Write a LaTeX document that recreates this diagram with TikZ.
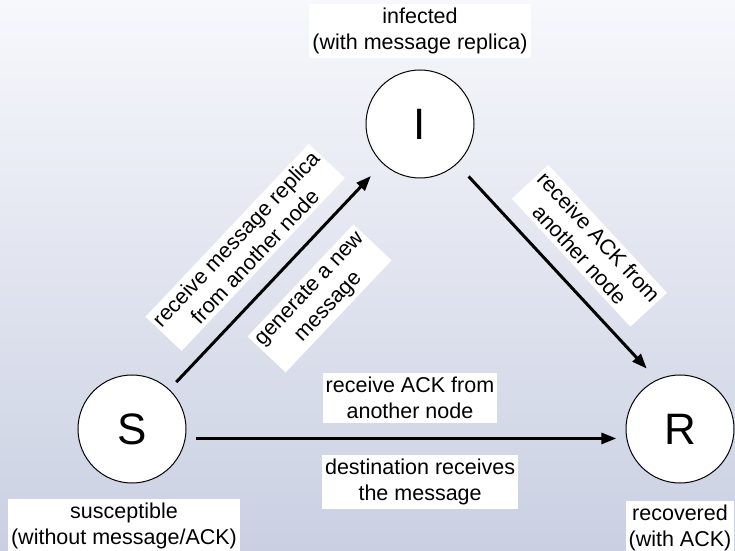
\documentclass[tikz,border=0pt]{standalone}
\usepackage{fontspec}
\setmainfont{Liberation Sans}
\usetikzlibrary{arrows.meta,positioning}
\definecolor{bgtop}{RGB}{247,248,252}
\definecolor{bgbottom}{RGB}{202,208,226}
\tikzset{
  state/.style={circle,draw,fill=white,line width=.5pt,minimum size=54pt,inner sep=0pt,font=\fontsize{22}{26}\selectfont},
  lbl/.style={fill=white,align=center,inner xsep=1.5pt,inner ysep=2pt,font=\fontsize{10.75}{13}\selectfont},
  arr/.style={line width=1.5pt,-{Triangle[length=7.5pt,width=5.5pt]}}
}
\begin{document}
\begin{tikzpicture}[x=.5pt,y=-.5pt]
        % background
        \shade[top color=bgtop,bottom color=bgbottom] (0,0) rectangle (735,551);
        \useasboundingbox (0,0) rectangle (735,551);

        % states
        \node[state] (I) at (420,124) {I};
        \node[state] (S) at (132,429) {S};
        \node[state] (R) at (680,429) {R};

        % state descriptions
        \node[lbl,above=5.5pt of I] (Ilbl) {infected\\(with message replica)};
        \node[lbl,below=7.5pt of S,xshift=-4pt] (Slbl) {susceptible\\(without message/ACK)};
        \node[lbl,below=8.5pt of R] (Rlbl) {recovered\\(with ACK)};

        % transitions
        \draw[arr,shorten <=5pt,shorten >=8.5pt] (S) -- (I)
          node[lbl,midway,sloped,above=8pt] (SIa) {receive message replica\\from another node}
          node[lbl,pos=.545,sloped,below=9.5pt] (SIb) {generate a new\\message};
        \draw[arr,shorten <=8.5pt,shorten >=7.5pt] (I) -- (R.115)
          node[lbl,pos=.51,sloped,above=7.5pt] (IR) {receive ACK from\\another node};
        \draw[arr,shorten <=5pt,shorten >=5pt] (S.-10) -- (R.190)
          node[lbl,pos=.509,above=7pt] (SRa) {receive ACK from\\another node}
          node[lbl,pos=.532,below=7.5pt] (SRb) {destination receives\\the message};
      \end{tikzpicture}
\end{document}
